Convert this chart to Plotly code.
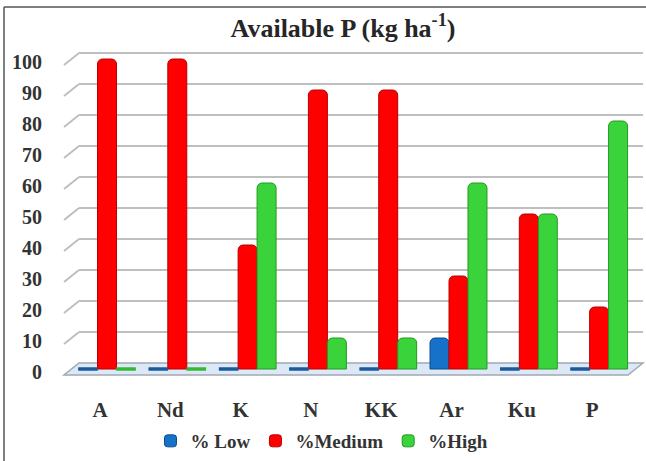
import plotly.graph_objects as go

# ---- data ----
categories = ["A", "Nd", "K", "N", "KK", "Ar", "Ku", "P"]
series_names = ["% Low", "%Medium", "%High"]
low = [0, 0, 0, 0, 0, 10, 0, 0]
medium = [100, 100, 40, 90, 90, 30, 50, 20]
high = [0, 0, 60, 10, 10, 60, 50, 80]
y_ticks = list(range(0, 101, 10))

series_values = [low, medium, high]
fills = ["#1672C8", "#FF0000", "#3BD33B"]
edges = ["#0B4C8C", "#B80000", "#229A22"]
stub_colors = ["#1A5A9A", "#D02020", "#35B835"]

# ---- geometry of the pseudo-3D box (pixels) ----
W, H = 646, 461
L, R, T, B = 55, 1, 40, 79
plot_w = W - L - R
plot_h = H - T - B
x0_px, x_unit = 107.0, 70.3          # pixel of category 0, pixels per category
y0_px, y_unit = 369.0, 3.1           # pixel of value 0, pixels per value unit
x_range = [(L - x0_px) / x_unit, (W - R - x0_px) / x_unit]
y_range = [-(T + plot_h - y0_px) / y_unit, (y0_px - T) / y_unit]

depth = 6.0 / y_unit                 # half depth of the box, in value units
x_front_l = (64 - x0_px) / x_unit
x_back_l = (79 - x0_px) / x_unit
x_front_r = (628 - x0_px) / x_unit
x_back_r = (643 - x0_px) / x_unit

bargap = 0.19
bar_w = (1 - bargap) / len(series_values)

fig = go.Figure()

xs = list(range(len(categories)))
for k, (name, vals) in enumerate(zip(series_names, series_values)):
    fig.add_trace(go.Bar(
        x=xs, y=vals, name=name,
        marker=dict(color=fills[k], line=dict(color=edges[k], width=1),
                    cornerradius=5),
    ))
    # zero values show as a flat disc on the floor
    off = (k - 1) * bar_w
    zx = [i + off for i, v in zip(xs, vals) if v == 0]
    zy = [v for v in vals if v == 0]
    fig.add_trace(go.Scatter(
        x=zx, y=zy, mode="markers", showlegend=False, hoverinfo="skip",
        marker=dict(symbol="line-ew", size=14,
                    line=dict(color=stub_colors[k], width=3.5)),
    ))

shapes = []
# floor
shapes.append(dict(
    type="path", xref="x", yref="y", layer="below",
    path=(f"M {x_front_l},{-depth} L {x_front_r},{-depth} "
          f"L {x_back_r},{depth} L {x_back_l},{depth} Z"),
    fillcolor="#DCE8F6", line=dict(color="#A0A8B4", width=1.5),
))
# gridlines: slanted side segment plus back-wall line
for v in y_ticks[1:]:
    shapes.append(dict(type="line", xref="x", yref="y", layer="below",
                       x0=x_front_l, y0=v - depth, x1=x_back_l, y1=v + depth,
                       line=dict(color="#BFBFBF", width=2)))
    shapes.append(dict(type="line", xref="x", yref="y", layer="below",
                       x0=x_back_l, y0=v + depth, x1=x_back_r, y1=v + depth,
                       line=dict(color="#BFBFBF", width=2)))


def px_x(p):
    return (p - L) / plot_w


def px_y(p):
    return (T + plot_h - p) / plot_h


# chart border (top and left edges)
shapes.append(dict(type="line", xref="paper", yref="paper",
                   x0=px_x(4), y0=px_y(7), x1=px_x(W + 5), y1=px_y(7),
                   line=dict(color="#555555", width=1.5)))
shapes.append(dict(type="line", xref="paper", yref="paper",
                   x0=px_x(4), y0=px_y(7), x1=px_x(4), y1=px_y(H + 5),
                   line=dict(color="#555555", width=1.5)))

serif = "Liberation Serif"

fig.update_layout(
    width=W, height=H,
    margin=dict(l=L, r=R, t=T, b=B),
    paper_bgcolor="white", plot_bgcolor="white",
    barmode="group", bargap=bargap, bargroupgap=0,
    shapes=shapes,
    title=dict(text="<b>Available P (kg ha<sup>-1</sup>)</b>",
               x=343 / W, xanchor="center", y=1 - 28 / H, yanchor="middle",
               font=dict(family=serif, size=26, color="#262626")),
    xaxis=dict(range=x_range, tickmode="array", tickvals=xs,
               ticktext=[f"<b>{c}</b>" for c in categories],
               showgrid=False, zeroline=False, showline=False, ticks="",
               ticklabelshift=-7, ticklabelstandoff=13,
               tickfont=dict(family=serif, size=21, color="#333333")),
    yaxis=dict(range=y_range, tickmode="array", tickvals=y_ticks,
               ticktext=[f"<b>{v}</b>" for v in y_ticks],
               showgrid=False, zeroline=False, showline=False, ticks="",
               ticklabelshift=3, ticklabelstandoff=12,
               tickfont=dict(family=serif, size=20, color="#333333")),
    legend=dict(orientation="h", x=px_x(322), xanchor="center",
                y=px_y(441), yanchor="middle",
                font=dict(family=serif, size=19, color="#333333", weight="bold"),
                itemwidth=30, traceorder="normal"),
    showlegend=True,
)

fig.write_html("out.html")
